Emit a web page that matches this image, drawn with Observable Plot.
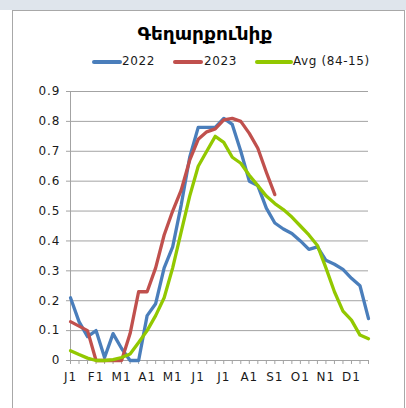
<!DOCTYPE html>
<html>
<head>
<meta charset="utf-8">
<script src="https://cdn.jsdelivr.net/npm/d3@7"></script>
<script src="https://cdn.jsdelivr.net/npm/@observablehq/plot@0.6"></script>
<style>
  html, body { margin: 0; padding: 0; background: #ffffff; }
  #wrap { position: relative; width: 406px; height: 408px; overflow: hidden; }
  #band { position: absolute; left: 0; top: 0; width: 406px; height: 10px; background: #dfe5ec; }
  #frame { position: absolute; left: 12px; top: 10px; width: 391px; height: 410px; border: 1px solid #a8a8a8; background: #fff; }
  #chart { position: absolute; left: 0; top: 0; }
  #title { position: absolute; left: 0; width: 410px; top: 23px; text-align: center;
           font-family: "DejaVu Sans", sans-serif; font-weight: bold; font-size: 18.5px; color: #000; }
  .leg { position: absolute; top: 54px; font-family: "DejaVu Sans", sans-serif; font-size: 12px; letter-spacing: 0.6px; color: #1a1a1a; }
  .sw { position: absolute; top: 60px; height: 4px; border-radius: 2px; }
  svg text { letter-spacing: 1px; }
</style>
</head>
<body>
<div id="wrap">
  <div id="band"></div>
  <div id="frame"></div>
  <div id="chart"></div>
  <div id="title"></div>
  <div id="legend"></div>
</div>
<script>
const title = "Գեղարքունիք";
const seriesNames = ["2022", "2023", "Avg (84-15)"];
const seriesColors = ["#4a7ebb", "#c0504d", "#92c800"];
const monthLabels = ["J1","F1","M1","A1","M1","J1","J1","A1","S1","O1","N1","D1"];
const yTicks = [0, 0.1, 0.2, 0.3, 0.4, 0.5, 0.6, 0.7, 0.8, 0.9];

const y2022 = [0.21, 0.13, 0.08, 0.10, 0.01, 0.09, 0.04, 0, 0, 0.15,
  0.19, 0.31, 0.38, 0.52, 0.68, 0.78, 0.78, 0.78, 0.81, 0.79,
  0.70, 0.60, 0.585, 0.51, 0.46, 0.44, 0.425, 0.40, 0.372, 0.38,
  0.335, 0.322, 0.305, 0.275, 0.25, 0.14];
const y2023 = [0.13, 0.115, 0.10, 0, 0, 0, 0, 0.09, 0.23, 0.23,
  0.31, 0.42, 0.50, 0.57, 0.67, 0.74, 0.765, 0.775, 0.805, 0.81,
  0.80, 0.76, 0.71, 0.63, 0.555];
const yAvg = [0.033, 0.02, 0.008, 0, 0, 0.003, 0.01, 0.022, 0.06, 0.10,
  0.15, 0.21, 0.31, 0.43, 0.55, 0.65, 0.70, 0.75, 0.73, 0.68,
  0.66, 0.62, 0.585, 0.55, 0.525, 0.505, 0.48, 0.45, 0.42, 0.385,
  0.31, 0.23, 0.165, 0.135, 0.085, 0.073];

const allSeries = [y2022, y2023, yAvg];
const nPoints = y2022.length;
const toRows = arr => arr.map((v, i) => ({i, v}));

const gridColor = "#a3a3a3";

const chart = Plot.plot({
  width: 406,
  height: 408,
  marginLeft: 70,
  marginRight: 38,
  marginTop: 91,
  marginBottom: 48,
  style: {fontFamily: "'DejaVu Sans', sans-serif", fontSize: "12px", background: "transparent", color: "#1a1a1a"},
  x: {domain: [0, nPoints - 1]},
  y: {domain: [0, 0.9]},
  marks: [
    Plot.gridY(yTicks, {stroke: gridColor, strokeOpacity: 1}),
    Plot.axisY({ticks: yTicks, tickSize: 4, tickPadding: 6, stroke: gridColor, fill: "#1a1a1a",
      tickFormat: d => d === 0 ? "0" : d.toFixed(1), label: null}),
    Plot.axisX({ticks: d3.range(nPoints), tickSize: 4, tickPadding: 8, stroke: gridColor, fill: "#1a1a1a",
      tickFormat: i => i % 3 === 0 ? monthLabels[i / 3] : "", label: null}),
    Plot.ruleX([0], {stroke: gridColor}),
    Plot.ruleY([0], {stroke: gridColor}),
    ...allSeries.map((s, k) => Plot.lineY(toRows(s), {x: "i", y: "v", stroke: seriesColors[k],
      strokeWidth: 3.3, strokeLinejoin: "round", strokeLinecap: "round"}))
  ]
});
document.getElementById("chart").appendChild(chart);
document.getElementById("title").textContent = title;

const legendPos = [{sw: 92, w: 30, tx: 122}, {sw: 173, w: 30, tx: 204}, {sw: 255, w: 38, tx: 293}];
const legend = document.getElementById("legend");
seriesNames.forEach((name, k) => {
  const sw = document.createElement("div");
  sw.className = "sw";
  sw.style.left = legendPos[k].sw + "px";
  sw.style.width = legendPos[k].w + "px";
  sw.style.background = seriesColors[k];
  legend.appendChild(sw);
  const t = document.createElement("div");
  t.className = "leg";
  t.style.left = legendPos[k].tx + "px";
  t.textContent = name;
  legend.appendChild(t);
});
</script>
</body>
</html>
